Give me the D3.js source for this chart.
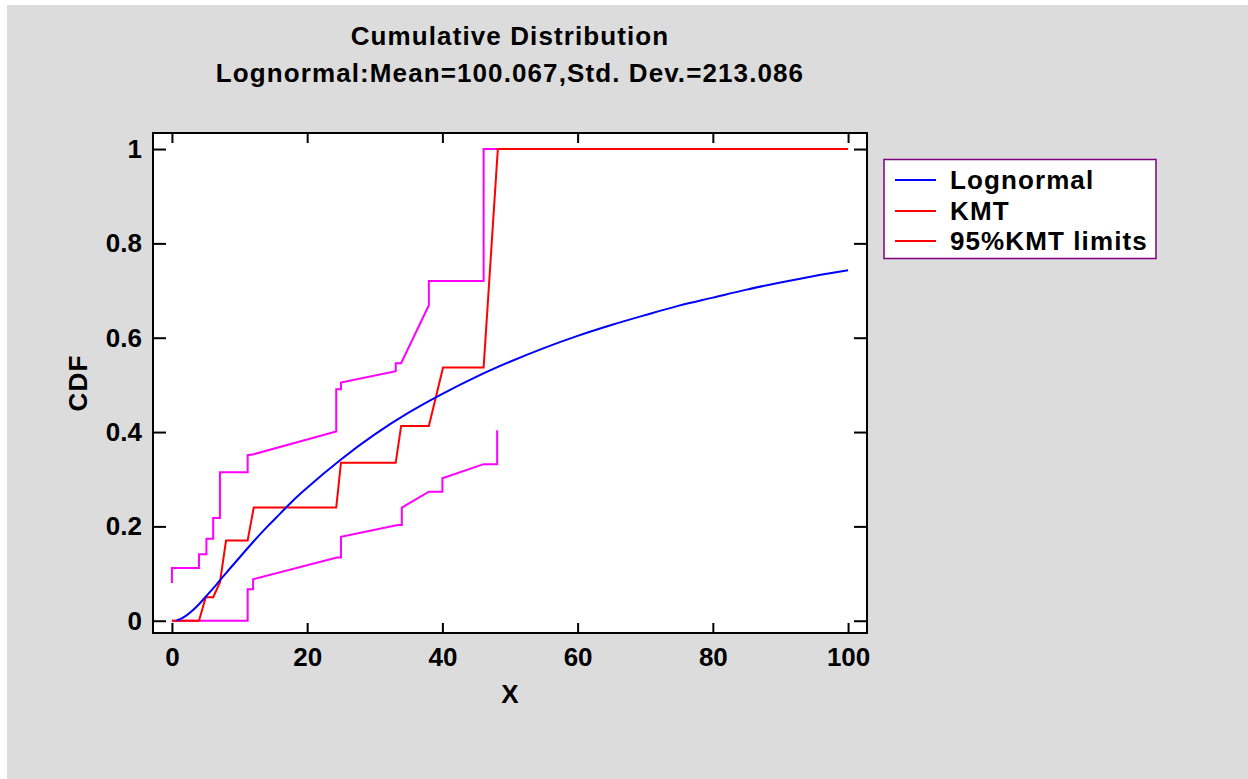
<!DOCTYPE html>
<html>
<head>
<meta charset="utf-8">
<script src="https://cdn.jsdelivr.net/npm/d3@7"></script>
<style>
  html, body { margin: 0; padding: 0; background: #ffffff; }
  svg { display: block; }
  text { font-family: "Liberation Sans", Arial, sans-serif; font-weight: bold; fill: #000; }
</style>
</head>
<body>
<svg id="chart" width="1248" height="779"></svg>
<script>
// ---------------- data ----------------
const titleText = "Cumulative Distribution";
const subtitleText = "Lognormal:Mean=100.067,Std. Dev.=213.086";
const xTicks = [0, 20, 40, 60, 80, 100];
const yTicks = [0, 0.2, 0.4, 0.6, 0.8, 1];
const yTickLabels = ["0", "0.2", "0.4", "0.6", "0.8", "1"];
const legendLabels = ["Lognormal", "KMT", "95%KMT limits"];

// fitted lognormal CDF
const lognormX = [0.7, 1, 2, 3, 4, 5, 6, 7, 8, 10, 12, 14, 16, 18, 20, 25, 30, 35, 40, 45, 50, 55, 60, 65, 70, 75, 80, 85, 90, 95, 100];
const lognormY = [0.001, 0.002, 0.0097, 0.021, 0.035, 0.051, 0.067, 0.084, 0.101, 0.134, 0.167, 0.198, 0.227, 0.256, 0.282, 0.342, 0.395, 0.441, 0.481, 0.517, 0.549, 0.578, 0.604, 0.627, 0.648, 0.668, 0.685, 0.702, 0.717, 0.731, 0.743];

// KMT estimate vertices
const kmtX = [0, 4.0, 5.0, 6.1, 7.1, 8.0, 11.2, 12.1, 24.3, 25.0, 33.1, 33.9, 38.0, 40.1, 46.1, 48.2, 100];
const kmtY = [0, 0, 0.05, 0.05, 0.081, 0.17, 0.17, 0.24, 0.24, 0.335, 0.335, 0.413, 0.413, 0.537, 0.537, 1, 1];

// upper 95% KMT limit
const upperX = [0, 0, 4.0, 4.0, 5.1, 5.1, 6.1, 6.1, 7.1, 7.1, 11.2, 11.2, 12.1, 24.3, 24.3, 25.0, 25.0, 33.1, 33.1, 33.9, 38.0, 38.0, 46.1, 46.1, 48.2];
const upperY = [0.08, 0.112, 0.112, 0.141, 0.141, 0.174, 0.174, 0.218, 0.218, 0.315, 0.315, 0.351, 0.353, 0.401, 0.491, 0.491, 0.505, 0.529, 0.546, 0.546, 0.669, 0.720, 0.720, 1, 1];

// lower 95% KMT limit
const lowerX = [0, 11.2, 11.2, 12.0, 12.0, 24.4, 25.0, 25.0, 33.4, 34.0, 34.0, 38.0, 40.0, 40.0, 46.1, 48.1, 48.1];
const lowerY = [0, 0, 0.0665, 0.0665, 0.088, 0.134, 0.134, 0.178, 0.203, 0.203, 0.240, 0.2735, 0.2735, 0.302, 0.332, 0.332, 0.404];

// ---------------- drawing ----------------
const svg = d3.select("#chart");
const W = 1248, H = 779;
const frame = { left: 153, right: 867, top: 133, bottom: 633 };

svg.append("rect").attr("x", 0).attr("y", 0).attr("width", W).attr("height", H).attr("fill", "#ffffff");
svg.append("rect").attr("x", 7).attr("y", 5).attr("width", W - 7).attr("height", H - 5).attr("fill", "#dcdcdc");

const x = d3.scaleLinear().domain([-2.8, 102.8]).range([frame.left, frame.right]);
const y = d3.scaleLinear().domain([-0.026, 1.034]).range([frame.bottom, frame.top]);

// plot area
svg.append("rect")
  .attr("x", frame.left).attr("y", frame.top)
  .attr("width", frame.right - frame.left).attr("height", frame.bottom - frame.top)
  .attr("fill", "#ffffff");

// titles
svg.append("text").attr("x", 510).attr("y", 45).attr("text-anchor", "middle")
  .style("font-size", "26px").style("letter-spacing", "1.1px").text(titleText);
svg.append("text").attr("x", 510).attr("y", 82).attr("text-anchor", "middle")
  .style("font-size", "26px").style("letter-spacing", "1.1px").text(subtitleText);

// series
const clip = svg.append("clipPath").attr("id", "plotclip").append("rect")
  .attr("x", frame.left).attr("y", frame.top)
  .attr("width", frame.right - frame.left).attr("height", frame.bottom - frame.top);
const plot = svg.append("g").attr("clip-path", "url(#plotclip)");

const zip = (xs, ys) => xs.map((v, i) => [v, ys[i]]);
const straight = d3.line().x(d => x(d[0])).y(d => y(d[1]));
const smooth = d3.line().x(d => x(d[0])).y(d => y(d[1])).curve(d3.curveMonotoneX);

plot.append("path").datum(zip(upperX, upperY)).attr("d", straight)
  .attr("fill", "none").attr("stroke", "#ff00ff").attr("stroke-width", 2);
plot.append("path").datum(zip(lowerX, lowerY)).attr("d", straight)
  .attr("fill", "none").attr("stroke", "#ff00ff").attr("stroke-width", 2);
plot.append("path").datum(zip(kmtX, kmtY)).attr("d", straight)
  .attr("fill", "none").attr("stroke", "#ff0000").attr("stroke-width", 2);
plot.append("path").datum(zip(lognormX, lognormY)).attr("d", smooth)
  .attr("fill", "none").attr("stroke", "#0000ff").attr("stroke-width", 2);

// axes (ticks pointing inward)
const fontAxis = g => {
  g.select(".domain").remove();
  g.selectAll(".tick line").attr("stroke", "#000").attr("stroke-width", 2);
  g.selectAll(".tick text").style("font-size", "26px")
    .style("font-family", "'Liberation Sans', Arial, sans-serif").style("font-weight", "bold").attr("fill", "#000");
};

svg.append("g").attr("transform", `translate(0,${frame.bottom})`)
  .call(d3.axisBottom(x).tickValues(xTicks).tickSize(-10).tickPadding(15).tickFormat(d3.format("d")))
  .call(fontAxis);
svg.append("g").attr("transform", `translate(0,${frame.top})`)
  .call(d3.axisTop(x).tickValues(xTicks).tickSize(-10).tickFormat(""))
  .call(fontAxis);
svg.append("g").attr("transform", `translate(${frame.left},0)`)
  .call(d3.axisLeft(y).tickValues(yTicks).tickSize(-13).tickPadding(11).tickFormat((d, i) => yTickLabels[i]))
  .call(fontAxis);
svg.append("g").attr("transform", `translate(${frame.right},0)`)
  .call(d3.axisRight(y).tickValues(yTicks).tickSize(-13).tickFormat(""))
  .call(fontAxis);

// frame
svg.append("rect")
  .attr("x", frame.left).attr("y", frame.top)
  .attr("width", frame.right - frame.left).attr("height", frame.bottom - frame.top)
  .attr("fill", "none").attr("stroke", "#000").attr("stroke-width", 2);

// axis titles
svg.append("text").attr("x", 510).attr("y", 703).attr("text-anchor", "middle")
  .style("font-size", "26px").text("X");
svg.append("text").attr("transform", "translate(87,383) rotate(-90)").attr("text-anchor", "middle")
  .style("font-size", "26px").style("letter-spacing", "1.1px").text("CDF");

// legend
const legend = svg.append("g");
legend.append("rect").attr("x", 884).attr("y", 159.5).attr("width", 272).attr("height", 99)
  .attr("fill", "#ffffff").attr("stroke", "#800080").attr("stroke-width", 1.5);
const legendColors = ["#0000ff", "#ff0000", "#ff0000"];
const rowY = [180, 211, 241];
legendLabels.forEach((lab, i) => {
  legend.append("line").attr("x1", 895).attr("x2", 936).attr("y1", rowY[i]).attr("y2", rowY[i])
    .attr("stroke", legendColors[i]).attr("stroke-width", 2);
  legend.append("text").attr("x", 950).attr("y", rowY[i] + 9)
    .style("font-size", "26px").style("letter-spacing", "1.1px").text(lab);
});
</script>
</body>
</html>
